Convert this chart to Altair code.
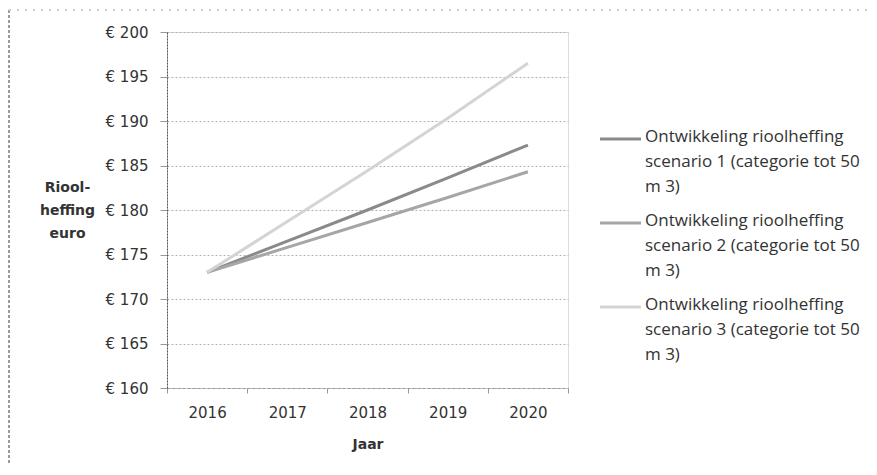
import altair as alt
import pandas as pd

years = ["2016", "2017", "2018", "2019", "2020"]
scenario_1 = [173.0, 176.5, 180.0, 183.6, 187.3]
scenario_2 = [173.0, 175.8, 178.6, 181.4, 184.3]
scenario_3 = [173.0, 178.7, 184.4, 190.3, 196.5]
series_names = [
    "Ontwikkeling rioolheffing|scenario 1 (categorie tot 50|m 3)",
    "Ontwikkeling rioolheffing|scenario 2 (categorie tot 50|m 3)",
    "Ontwikkeling rioolheffing|scenario 3 (categorie tot 50|m 3)",
]
series_colors = ["#8a8a8a", "#a6a6a6", "#d4d4d4"]
y_ticks = [160, 165, 170, 175, 180, 185, 190, 195, 200]

rows = []
for name, vals in zip(series_names, [scenario_1, scenario_2, scenario_3]):
    for yr, v in zip(years, vals):
        rows.append({"Jaar": yr, "waarde": v, "reeks": name})
df = pd.DataFrame(rows)

color_scale = alt.Scale(domain=series_names, range=series_colors)
base = alt.Chart(df)

lines = base.mark_line(strokeWidth=3).encode(
    x=alt.X(
        "Jaar:O",
        scale=alt.Scale(type="band", paddingInner=0, paddingOuter=0),
        axis=alt.Axis(
            title="Jaar",
            labelAngle=0,
            tickBand="extent",
            grid=False,
            tickSize=5,
            tickColor="#999999",
            domainColor="#9a9a9a",
            domainDash=[3, 2],
            labelPadding=12,
            labelFont="DejaVu Sans",
            labelFontSize=15,
            labelColor="#333333",
            titleFont="DejaVu Sans",
            titleFontWeight="bold",
            titleFontSize=14,
            titleColor="#333333",
            titlePadding=17,
        ),
    ),
    y=alt.Y(
        "waarde:Q",
        scale=alt.Scale(domain=[160, 200], nice=False, zero=False),
        axis=alt.Axis(
            values=y_ticks,
            labelExpr="'€ ' + datum.value",
            title=["Riool-", "heffing", "euro"],
            titleAngle=0,
            titleAlign="center",
            titleBaseline="top",
            titleX=-100,
            titleY=148,
            titleLineHeight=23,
            titleFont="DejaVu Sans",
            titleFontWeight="bold",
            titleFontSize=14,
            titleColor="#333333",
            tickSize=7,
            tickColor="#999999",
            labelPadding=12,
            labelFont="DejaVu Sans",
            labelFontSize=15,
            labelColor="#333333",
            domainColor="#555555",
            domainDash=[2, 1],
            gridColor="#b3b3b3",
            gridDash=[2, 2],
        ),
    ),
    color=alt.Color("reeks:N", scale=color_scale, legend=None),
)

legend_y = alt.Y(
    "reeks:N",
    scale=alt.Scale(type="point", domain=series_names, range=[97, 265], padding=0),
    axis=None,
)

legend_base = base.transform_filter(alt.datum.Jaar == years[0])

legend_symbols = legend_base.mark_rule(strokeWidth=3, yOffset=10).encode(
    y=legend_y,
    x=alt.value(433),
    x2=alt.value(474),
    color=alt.Color("reeks:N", scale=color_scale, legend=None),
)

legend_text = legend_base.mark_text(
    align="left",
    baseline="top",
    lineBreak="|",
    lineHeight=25,
    font="Open Sans",
    fontSize=17,
    color="#333333",
).encode(
    y=legend_y,
    x=alt.value(478),
    text="reeks:N",
)

border_left = alt.Chart(df).mark_rule(color="#9a9a9a", strokeDash=[3, 2]).encode(
    x=alt.value(-158), y=alt.value(-22), y2=alt.value(445)
)
border_top = alt.Chart(df).mark_rule(color="#c8c8c8", strokeDash=[2, 6]).encode(
    x=alt.value(-158), x2=alt.value(710), y=alt.value(-22)
)

chart = alt.layer(
    lines, legend_symbols, legend_text, border_left, border_top
).resolve_scale(y="independent").properties(
    width=401,
    height=356,
    autosize=alt.AutoSizeParams(type="none"),
    padding={"left": 159, "top": 24, "right": 301, "bottom": 75},
).configure_view(stroke=None).configure(background="white")

chart.save("out.html", embed_options={"renderer": "svg", "actions": False})
